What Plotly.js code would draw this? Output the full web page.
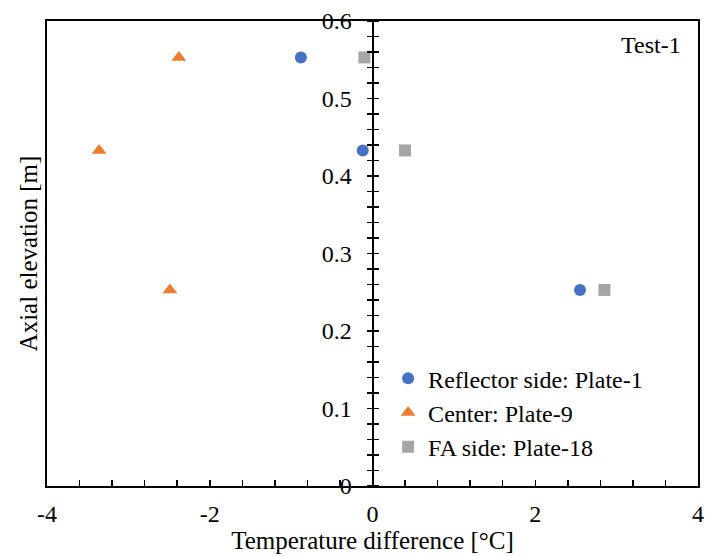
<!DOCTYPE html>
<html>
<head>
<meta charset="utf-8">
<script src="https://cdn.plot.ly/plotly-3.0.1.min.js"></script>
<style>html,body{margin:0;padding:0;background:#fff;}#chart{width:708px;height:556px;}</style>
</head>
<body>
<div id="chart"></div>
<script>
// Data
const elevations = [0.553, 0.433, 0.253];
const reflectorDiff = [-0.88, -0.12, 2.55];
const centerDiff = [-2.38, -3.36, -2.49];
const faDiff = [-0.10, 0.40, 2.85];
const seriesNames = ['Reflector side: Plate-1', 'Center: Plate-9', 'FA side: Plate-18'];
const xTickVals = [-4, -2, 0, 2, 4];
const xTickText = ['-4', '-2', '0', '2', '4'];
const yTickVals = [0, 0.1, 0.2, 0.3, 0.4, 0.5, 0.6];
const yTickText = ['0', '0.1', '0.2', '0.3', '0.4', '0.5', '0.6'];

const FONT = 'Liberation Serif';

const traces = [
  {x: reflectorDiff, y: elevations, name: seriesNames[0], type: 'scatter', mode: 'markers',
   marker: {symbol: 'circle', size: 12, color: '#4472C4'}},
  {x: centerDiff, y: elevations, name: seriesNames[1], type: 'scatter', mode: 'markers',
   marker: {symbol: 'triangle-up', size: 13, color: '#ED7D31'}},
  {x: faDiff, y: elevations, name: seriesNames[2], type: 'scatter', mode: 'markers',
   marker: {symbol: 'square', size: 12, color: '#A5A5A5'}},
  {x: [], y: [], xaxis: 'x', yaxis: 'y2', showlegend: false, hoverinfo: 'skip', type: 'scatter'},
  {x: [], y: [], xaxis: 'x', yaxis: 'y3', showlegend: false, hoverinfo: 'skip', type: 'scatter'}
];

const layout = {
  width: 708, height: 556,
  margin: {l: 47, r: 10, t: 21, b: 70},
  paper_bgcolor: '#fff', plot_bgcolor: '#fff',
  font: {family: FONT, color: '#000', size: 24},
  showlegend: true,
  legend: {x: 0.524, y: 0.279, xanchor: 'left', yanchor: 'top', bgcolor: 'rgba(0,0,0,0)',
           font: {family: FONT, size: 24, color: '#000'}, borderwidth: 0, tracegroupgap: 0},
  xaxis: {
    range: [-4, 4], showgrid: false, zeroline: false,
    showline: true, linecolor: '#000', linewidth: 2, mirror: true,
    tickmode: 'array', tickvals: xTickVals, ticktext: xTickText,
    ticks: 'inside', ticklen: 6, tickwidth: 1.5, tickcolor: '#000',
    minor: {tickmode: 'linear', tick0: 0, dtick: 0.4, ticks: 'inside', ticklen: 6, tickwidth: 1.5, tickcolor: '#000', showgrid: false},
    ticklabelstandoff: 5,
    tickfont: {family: FONT, size: 24, color: '#000'},
    title: {text: 'Temperature difference [°C]', font: {family: FONT, size: 25, color: '#000'}, standoff: 3}
  },
  yaxis: {
    range: [0, 0.6], showgrid: false, zeroline: false,
    showline: true, linecolor: '#000', linewidth: 2, mirror: true,
    ticks: '', showticklabels: false,
    title: {text: 'Axial elevation [m]', font: {family: FONT, size: 25, color: '#000'}, standoff: 0}
  },
  yaxis2: {
    range: [0, 0.6], overlaying: 'y', anchor: 'free', position: 0.5, side: 'left',
    showgrid: false, zeroline: false,
    showline: true, linecolor: '#000', linewidth: 2,
    tickmode: 'array', tickvals: yTickVals, ticktext: yTickText,
    ticks: 'outside', ticklen: 5, tickwidth: 1.5, tickcolor: '#000',
    minor: {tickmode: 'linear', tick0: 0, dtick: 0.02, ticks: 'outside', ticklen: 5, tickwidth: 1.5, tickcolor: '#000', showgrid: false},
    ticklabelstandoff: 10,
    tickfont: {family: FONT, size: 24, color: '#000'}
  },
  yaxis3: {
    range: [0, 0.6], overlaying: 'y', anchor: 'free', position: 0.5, side: 'right',
    showgrid: false, zeroline: false, showline: false,
    tickmode: 'array', tickvals: yTickVals,
    ticks: 'outside', ticklen: 5, tickwidth: 1.5, tickcolor: '#000', showticklabels: false,
    minor: {tickmode: 'linear', tick0: 0, dtick: 0.02, ticks: 'outside', ticklen: 5, tickwidth: 1.5, tickcolor: '#000', showgrid: false}
  },
  annotations: [
    {text: 'Test-1', xref: 'paper', yref: 'paper', x: 0.977, y: 0.948, xanchor: 'right', yanchor: 'middle',
     showarrow: false, font: {family: FONT, size: 24, color: '#000'}}
  ]
};

Plotly.newPlot('chart', traces, layout, {displayModeBar: false, staticPlot: true});
</script>
</body>
</html>
